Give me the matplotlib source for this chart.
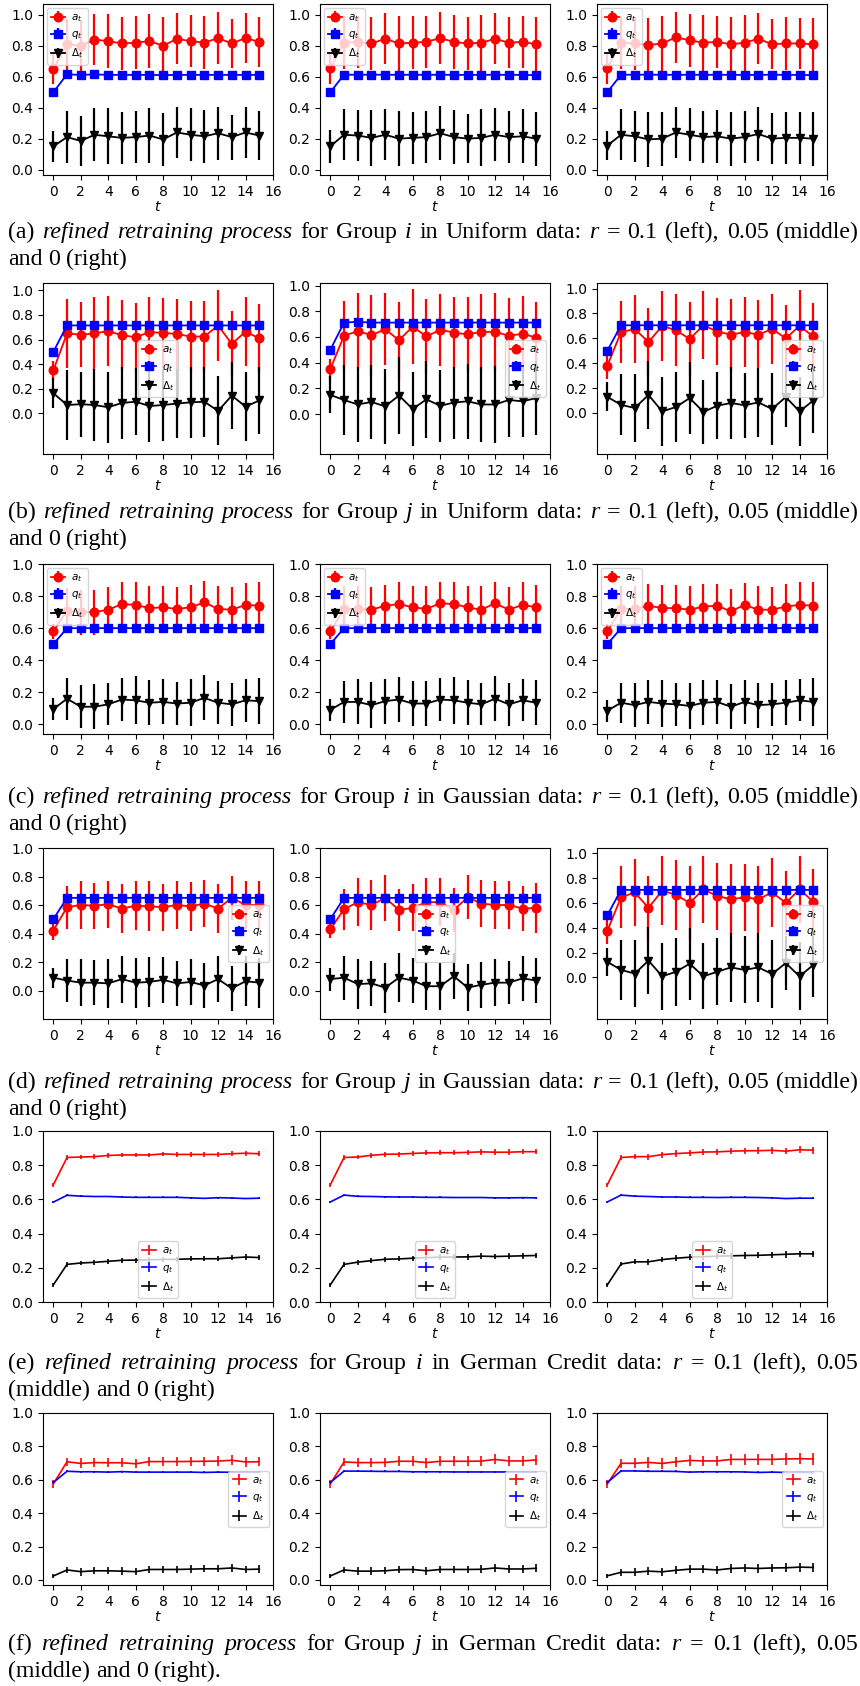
import matplotlib
matplotlib.use("Agg")
import matplotlib.pyplot as plt

# ---------------------------------------------------------------- data
T = list(range(16))

# Uniform data, group i  (each list of three: r = 0.1, 0.05, 0)
UNI_I_A = [
    [0.65, 0.81, 0.80, 0.84, 0.83, 0.815, 0.82, 0.83, 0.80, 0.845, 0.83, 0.82, 0.85, 0.815, 0.85, 0.825],
    [0.655, 0.82, 0.825, 0.815, 0.845, 0.815, 0.82, 0.825, 0.85, 0.825, 0.815, 0.82, 0.845, 0.82, 0.825, 0.81],
    [0.655, 0.82, 0.815, 0.805, 0.815, 0.855, 0.835, 0.82, 0.825, 0.81, 0.82, 0.845, 0.81, 0.815, 0.815, 0.81],
]
UNI_I_A_ERR = [
    [0.10, 0.165, 0.165, 0.165, 0.175, 0.17, 0.17, 0.175, 0.185, 0.165, 0.17, 0.17, 0.17, 0.16, 0.16, 0.16],
    [0.10, 0.17, 0.17, 0.17, 0.165, 0.18, 0.17, 0.17, 0.17, 0.175, 0.17, 0.18, 0.165, 0.165, 0.17, 0.175],
    [0.10, 0.17, 0.17, 0.175, 0.18, 0.165, 0.17, 0.18, 0.17, 0.175, 0.18, 0.165, 0.16, 0.17, 0.165, 0.17],
]
UNI_I_Q = [
    [0.50, 0.615, 0.612, 0.615, 0.612, 0.612, 0.612, 0.612, 0.61, 0.612, 0.612, 0.612, 0.612, 0.612, 0.612, 0.612],
    [0.50, 0.613, 0.613, 0.613, 0.613, 0.612, 0.613, 0.612, 0.613, 0.612, 0.612, 0.612, 0.613, 0.612, 0.612, 0.61],
    [0.50, 0.613, 0.613, 0.613, 0.613, 0.612, 0.613, 0.612, 0.613, 0.612, 0.612, 0.612, 0.613, 0.612, 0.612, 0.61],
]
UNI_I_Q_ERR = [
    [0.006, 0.01, 0.01, 0.01, 0.01, 0.01, 0.01, 0.01, 0.01, 0.01, 0.01, 0.01, 0.01, 0.01, 0.01, 0.01],
    [0.006, 0.01, 0.01, 0.01, 0.01, 0.01, 0.01, 0.01, 0.01, 0.01, 0.01, 0.01, 0.01, 0.01, 0.01, 0.01],
    [0.006, 0.01, 0.01, 0.01, 0.01, 0.01, 0.01, 0.01, 0.01, 0.01, 0.01, 0.01, 0.01, 0.01, 0.01, 0.01],
]
UNI_I_D = [
    [0.15, 0.21, 0.185, 0.225, 0.215, 0.205, 0.21, 0.22, 0.195, 0.24, 0.225, 0.215, 0.235, 0.21, 0.24, 0.22],
    [0.15, 0.225, 0.22, 0.205, 0.225, 0.20, 0.205, 0.21, 0.235, 0.21, 0.20, 0.205, 0.225, 0.21, 0.215, 0.20],
    [0.155, 0.225, 0.215, 0.195, 0.20, 0.24, 0.225, 0.21, 0.215, 0.20, 0.21, 0.23, 0.20, 0.205, 0.205, 0.20],
]
UNI_I_D_ERR = [
    [0.10, 0.17, 0.16, 0.17, 0.18, 0.17, 0.17, 0.18, 0.17, 0.165, 0.17, 0.17, 0.17, 0.145, 0.165, 0.16],
    [0.105, 0.165, 0.165, 0.18, 0.165, 0.18, 0.17, 0.17, 0.175, 0.175, 0.16, 0.185, 0.17, 0.17, 0.175, 0.175],
    [0.095, 0.165, 0.165, 0.18, 0.175, 0.165, 0.17, 0.17, 0.17, 0.175, 0.17, 0.175, 0.165, 0.17, 0.17, 0.175],
]

# Uniform data, group j
UNI_J_A = [
    [0.35, 0.65, 0.64, 0.65, 0.67, 0.635, 0.62, 0.66, 0.655, 0.645, 0.625, 0.625, 0.715, 0.565, 0.665, 0.61],
    [0.35, 0.61, 0.645, 0.615, 0.66, 0.575, 0.68, 0.605, 0.655, 0.635, 0.62, 0.64, 0.64, 0.61, 0.625, 0.595],
    [0.38, 0.65, 0.675, 0.57, 0.70, 0.665, 0.595, 0.705, 0.655, 0.63, 0.65, 0.63, 0.675, 0.60, 0.70, 0.615],
]
UNI_J_A_ERR = [
    [0.08, 0.28, 0.265, 0.295, 0.285, 0.285, 0.275, 0.285, 0.285, 0.285, 0.285, 0.285, 0.285, 0.27, 0.28, 0.28],
    [0.08, 0.27, 0.30, 0.31, 0.28, 0.30, 0.29, 0.29, 0.28, 0.28, 0.295, 0.295, 0.30, 0.29, 0.295, 0.28],
    [0.11, 0.25, 0.27, 0.27, 0.28, 0.29, 0.30, 0.275, 0.27, 0.29, 0.28, 0.28, 0.28, 0.265, 0.285, 0.27],
]
UNI_J_Q = [
    [0.50, 0.715, 0.715, 0.715, 0.715, 0.715, 0.715, 0.715, 0.715, 0.715, 0.715, 0.715, 0.715, 0.715, 0.715, 0.715],
    [0.50, 0.712, 0.718, 0.712, 0.712, 0.712, 0.712, 0.712, 0.712, 0.712, 0.712, 0.712, 0.712, 0.712, 0.712, 0.712],
    [0.50, 0.705, 0.705, 0.705, 0.705, 0.705, 0.705, 0.705, 0.705, 0.705, 0.705, 0.705, 0.705, 0.705, 0.705, 0.705],
]
UNI_J_Q_ERR = [
    [0.01, 0.012, 0.012, 0.012, 0.012, 0.012, 0.012, 0.012, 0.012, 0.012, 0.012, 0.012, 0.012, 0.012, 0.012, 0.012],
    [0.01, 0.012, 0.012, 0.012, 0.012, 0.012, 0.012, 0.012, 0.012, 0.012, 0.012, 0.012, 0.012, 0.012, 0.012, 0.012],
    [0.01, 0.012, 0.012, 0.012, 0.012, 0.012, 0.012, 0.012, 0.012, 0.012, 0.012, 0.012, 0.012, 0.012, 0.012, 0.012],
]
UNI_J_D = [
    [0.165, 0.068, 0.075, 0.068, 0.05, 0.085, 0.095, 0.06, 0.068, 0.08, 0.09, 0.095, 0.02, 0.145, 0.055, 0.105],
    [0.15, 0.11, 0.075, 0.095, 0.06, 0.145, 0.04, 0.115, 0.065, 0.09, 0.10, 0.075, 0.075, 0.11, 0.10, 0.125],
    [0.13, 0.065, 0.04, 0.145, 0.012, 0.048, 0.12, 0.008, 0.058, 0.08, 0.062, 0.085, 0.032, 0.128, 0.012, 0.10],
]
UNI_J_D_ERR = [
    [0.12, 0.285, 0.265, 0.295, 0.29, 0.29, 0.27, 0.295, 0.29, 0.28, 0.29, 0.285, 0.28, 0.275, 0.28, 0.275],
    [0.145, 0.275, 0.295, 0.29, 0.29, 0.30, 0.285, 0.30, 0.28, 0.28, 0.29, 0.29, 0.30, 0.29, 0.28, 0.29],
    [0.115, 0.245, 0.27, 0.27, 0.275, 0.285, 0.29, 0.26, 0.27, 0.29, 0.26, 0.275, 0.29, 0.24, 0.275, 0.26],
]

# Gaussian data, group i
GAU_I_A = [
    [0.58, 0.71, 0.70, 0.70, 0.715, 0.75, 0.745, 0.725, 0.73, 0.72, 0.73, 0.76, 0.72, 0.715, 0.745, 0.74],
    [0.58, 0.72, 0.72, 0.715, 0.74, 0.75, 0.73, 0.72, 0.755, 0.75, 0.73, 0.715, 0.755, 0.715, 0.745, 0.73],
    [0.58, 0.72, 0.72, 0.74, 0.725, 0.725, 0.715, 0.735, 0.74, 0.705, 0.745, 0.715, 0.715, 0.735, 0.745, 0.74],
]
GAU_I_A_ERR = [
    [0.045, 0.14, 0.14, 0.14, 0.14, 0.135, 0.145, 0.14, 0.135, 0.135, 0.14, 0.135, 0.145, 0.14, 0.135, 0.145],
    [0.045, 0.14, 0.14, 0.14, 0.13, 0.14, 0.135, 0.14, 0.13, 0.135, 0.135, 0.145, 0.135, 0.14, 0.14, 0.14],
    [0.045, 0.14, 0.14, 0.135, 0.145, 0.145, 0.145, 0.14, 0.135, 0.14, 0.135, 0.145, 0.14, 0.14, 0.14, 0.15],
]
GAU_I_Q = [
    [0.50, 0.60, 0.60, 0.60, 0.60, 0.60, 0.60, 0.60, 0.60, 0.60, 0.60, 0.60, 0.60, 0.60, 0.60, 0.60],
    [0.50, 0.60, 0.60, 0.60, 0.60, 0.60, 0.60, 0.60, 0.60, 0.60, 0.60, 0.60, 0.60, 0.60, 0.60, 0.60],
    [0.50, 0.60, 0.60, 0.60, 0.60, 0.60, 0.60, 0.60, 0.60, 0.60, 0.60, 0.60, 0.60, 0.60, 0.60, 0.60],
]
GAU_I_Q_ERR = [
    [0.006, 0.01, 0.01, 0.01, 0.01, 0.01, 0.01, 0.01, 0.01, 0.01, 0.01, 0.01, 0.01, 0.01, 0.01, 0.01],
    [0.006, 0.01, 0.01, 0.01, 0.01, 0.01, 0.01, 0.01, 0.01, 0.01, 0.01, 0.01, 0.01, 0.01, 0.01, 0.01],
    [0.006, 0.01, 0.01, 0.01, 0.01, 0.01, 0.01, 0.01, 0.01, 0.01, 0.01, 0.01, 0.01, 0.01, 0.01, 0.01],
]
GAU_I_D = [
    [0.095, 0.16, 0.11, 0.11, 0.125, 0.155, 0.15, 0.135, 0.14, 0.13, 0.135, 0.165, 0.135, 0.125, 0.15, 0.145],
    [0.09, 0.14, 0.14, 0.12, 0.145, 0.155, 0.13, 0.13, 0.155, 0.15, 0.135, 0.125, 0.16, 0.125, 0.15, 0.135],
    [0.085, 0.135, 0.12, 0.14, 0.13, 0.125, 0.115, 0.135, 0.14, 0.11, 0.14, 0.12, 0.125, 0.135, 0.15, 0.14],
]
GAU_I_D_ERR = [
    [0.07, 0.13, 0.135, 0.14, 0.13, 0.135, 0.15, 0.14, 0.14, 0.135, 0.145, 0.14, 0.135, 0.135, 0.135, 0.145],
    [0.07, 0.13, 0.14, 0.145, 0.14, 0.14, 0.14, 0.14, 0.135, 0.145, 0.14, 0.13, 0.14, 0.135, 0.13, 0.14],
    [0.07, 0.125, 0.135, 0.135, 0.145, 0.135, 0.145, 0.14, 0.135, 0.14, 0.135, 0.14, 0.135, 0.14, 0.13, 0.15],
]

# Gaussian data, group j
GAU_J_A = [
    [0.42, 0.585, 0.60, 0.595, 0.605, 0.575, 0.595, 0.59, 0.585, 0.60, 0.59, 0.61, 0.575, 0.65, 0.60, 0.60],
    [0.43, 0.57, 0.62, 0.60, 0.65, 0.565, 0.58, 0.62, 0.62, 0.565, 0.655, 0.61, 0.60, 0.60, 0.575, 0.58],
    [0.375, 0.645, 0.685, 0.56, 0.70, 0.665, 0.60, 0.71, 0.655, 0.63, 0.645, 0.63, 0.685, 0.60, 0.71, 0.61],
]
GAU_J_A_ERR = [
    [0.065, 0.15, 0.165, 0.16, 0.165, 0.17, 0.17, 0.175, 0.165, 0.17, 0.17, 0.165, 0.17, 0.155, 0.17, 0.17],
    [0.065, 0.145, 0.17, 0.175, 0.16, 0.15, 0.165, 0.17, 0.17, 0.155, 0.155, 0.165, 0.17, 0.165, 0.155, 0.175],
    [0.11, 0.25, 0.27, 0.26, 0.28, 0.28, 0.30, 0.27, 0.27, 0.28, 0.27, 0.27, 0.28, 0.26, 0.27, 0.26],
]
GAU_J_Q = [
    [0.50, 0.65, 0.65, 0.65, 0.65, 0.65, 0.65, 0.65, 0.65, 0.65, 0.65, 0.65, 0.65, 0.65, 0.65, 0.65],
    [0.50, 0.65, 0.65, 0.65, 0.65, 0.65, 0.65, 0.65, 0.65, 0.65, 0.65, 0.65, 0.65, 0.65, 0.65, 0.65],
    [0.50, 0.705, 0.705, 0.705, 0.705, 0.705, 0.705, 0.705, 0.705, 0.705, 0.705, 0.705, 0.705, 0.705, 0.705, 0.705],
]
GAU_J_Q_ERR = [
    [0.01, 0.012, 0.012, 0.012, 0.012, 0.012, 0.012, 0.012, 0.012, 0.012, 0.012, 0.012, 0.012, 0.012, 0.012, 0.012],
    [0.01, 0.012, 0.012, 0.012, 0.012, 0.012, 0.012, 0.012, 0.012, 0.012, 0.012, 0.012, 0.012, 0.012, 0.012, 0.012],
    [0.01, 0.012, 0.012, 0.012, 0.012, 0.012, 0.012, 0.012, 0.012, 0.012, 0.012, 0.012, 0.012, 0.012, 0.012, 0.012],
]
GAU_J_D = [
    [0.09, 0.07, 0.055, 0.055, 0.05, 0.08, 0.055, 0.06, 0.075, 0.05, 0.06, 0.035, 0.08, 0.015, 0.065, 0.055],
    [0.08, 0.09, 0.045, 0.05, 0.02, 0.09, 0.07, 0.03, 0.03, 0.10, 0.02, 0.04, 0.055, 0.055, 0.085, 0.07],
    [0.125, 0.06, 0.03, 0.135, 0.008, 0.045, 0.11, 0.008, 0.045, 0.08, 0.06, 0.08, 0.027, 0.115, 0.008, 0.10],
]
GAU_J_D_ERR = [
    [0.07, 0.15, 0.165, 0.16, 0.17, 0.165, 0.175, 0.175, 0.16, 0.16, 0.16, 0.16, 0.16, 0.16, 0.175, 0.175],
    [0.08, 0.155, 0.175, 0.16, 0.175, 0.17, 0.155, 0.17, 0.165, 0.16, 0.165, 0.16, 0.165, 0.15, 0.16, 0.16],
    [0.115, 0.245, 0.27, 0.27, 0.27, 0.275, 0.29, 0.265, 0.27, 0.28, 0.27, 0.28, 0.275, 0.22, 0.275, 0.26],
]

# German Credit data, group i
GER_I_A = [
    [0.685, 0.845, 0.848, 0.85, 0.857, 0.86, 0.86, 0.86, 0.866, 0.863, 0.863, 0.863, 0.863, 0.867, 0.87, 0.867],
    [0.685, 0.845, 0.848, 0.858, 0.864, 0.865, 0.869, 0.872, 0.873, 0.873, 0.875, 0.878, 0.876, 0.876, 0.879, 0.879],
    [0.685, 0.845, 0.85, 0.85, 0.862, 0.868, 0.872, 0.877, 0.878, 0.882, 0.884, 0.885, 0.887, 0.882, 0.89, 0.888],
]
GER_I_A_ERR = [
    [0.012, 0.012, 0.014, 0.014, 0.014, 0.014, 0.014, 0.014, 0.014, 0.014, 0.015, 0.015, 0.015, 0.015, 0.015, 0.015],
    [0.012, 0.013, 0.014, 0.015, 0.015, 0.015, 0.015, 0.015, 0.016, 0.016, 0.016, 0.016, 0.016, 0.016, 0.016, 0.016],
    [0.012, 0.014, 0.016, 0.017, 0.017, 0.018, 0.018, 0.018, 0.018, 0.019, 0.019, 0.019, 0.019, 0.019, 0.02, 0.02],
]
GER_I_Q = [
    [0.584, 0.624, 0.619, 0.617, 0.617, 0.614, 0.612, 0.612, 0.612, 0.612, 0.609, 0.606, 0.61, 0.608, 0.605, 0.607],
    [0.585, 0.625, 0.618, 0.617, 0.615, 0.614, 0.614, 0.612, 0.612, 0.611, 0.611, 0.611, 0.609, 0.609, 0.61, 0.609],
    [0.585, 0.625, 0.619, 0.617, 0.614, 0.614, 0.612, 0.612, 0.611, 0.612, 0.612, 0.611, 0.609, 0.605, 0.607, 0.607],
]
GER_I_Q_ERR = [
    [0.005, 0.005, 0.005, 0.005, 0.005, 0.005, 0.005, 0.005, 0.005, 0.005, 0.005, 0.005, 0.005, 0.005, 0.005, 0.005],
    [0.005, 0.005, 0.005, 0.005, 0.005, 0.005, 0.005, 0.005, 0.005, 0.005, 0.005, 0.005, 0.005, 0.005, 0.005, 0.005],
    [0.005, 0.005, 0.005, 0.005, 0.005, 0.005, 0.005, 0.005, 0.005, 0.005, 0.005, 0.005, 0.005, 0.005, 0.005, 0.005],
]
GER_I_D = [
    [0.10, 0.22, 0.228, 0.232, 0.238, 0.244, 0.245, 0.247, 0.249, 0.25, 0.252, 0.253, 0.253, 0.258, 0.263, 0.26],
    [0.10, 0.22, 0.233, 0.242, 0.25, 0.252, 0.256, 0.26, 0.262, 0.263, 0.264, 0.268, 0.266, 0.268, 0.27, 0.272],
    [0.10, 0.222, 0.235, 0.235, 0.248, 0.256, 0.262, 0.265, 0.268, 0.27, 0.272, 0.273, 0.276, 0.279, 0.282, 0.282],
]
GER_I_D_ERR = [
    [0.012, 0.013, 0.014, 0.014, 0.015, 0.015, 0.015, 0.015, 0.015, 0.015, 0.015, 0.015, 0.015, 0.015, 0.015, 0.015],
    [0.012, 0.013, 0.014, 0.015, 0.015, 0.015, 0.015, 0.016, 0.016, 0.016, 0.016, 0.016, 0.016, 0.016, 0.016, 0.016],
    [0.012, 0.014, 0.015, 0.016, 0.017, 0.017, 0.017, 0.018, 0.018, 0.018, 0.018, 0.018, 0.019, 0.019, 0.019, 0.019],
]

# German Credit data, group j
GER_J_A = [
    [0.575, 0.708, 0.698, 0.703, 0.702, 0.702, 0.696, 0.709, 0.709, 0.709, 0.71, 0.711, 0.712, 0.717, 0.707, 0.708],
    [0.575, 0.707, 0.703, 0.703, 0.704, 0.711, 0.711, 0.703, 0.711, 0.711, 0.711, 0.712, 0.722, 0.713, 0.713, 0.719],
    [0.575, 0.699, 0.699, 0.704, 0.698, 0.708, 0.716, 0.713, 0.713, 0.722, 0.722, 0.722, 0.722, 0.725, 0.726, 0.725],
]
GER_J_A_ERR = [
    [0.022, 0.025, 0.03, 0.027, 0.027, 0.027, 0.027, 0.028, 0.028, 0.028, 0.028, 0.028, 0.028, 0.03, 0.028, 0.028],
    [0.022, 0.026, 0.028, 0.028, 0.028, 0.029, 0.029, 0.03, 0.029, 0.029, 0.029, 0.029, 0.03, 0.03, 0.03, 0.031],
    [0.022, 0.028, 0.03, 0.031, 0.031, 0.031, 0.032, 0.032, 0.032, 0.033, 0.033, 0.033, 0.033, 0.034, 0.034, 0.034],
]
GER_J_Q = [
    [0.584, 0.651, 0.648, 0.648, 0.646, 0.649, 0.646, 0.646, 0.646, 0.646, 0.646, 0.644, 0.646, 0.645, 0.645, 0.645],
    [0.584, 0.652, 0.652, 0.651, 0.65, 0.65, 0.648, 0.648, 0.648, 0.647, 0.647, 0.647, 0.647, 0.647, 0.646, 0.646],
    [0.584, 0.653, 0.653, 0.651, 0.651, 0.65, 0.646, 0.648, 0.648, 0.648, 0.647, 0.644, 0.646, 0.644, 0.644, 0.644],
]
GER_J_Q_ERR = [
    [0.006, 0.006, 0.006, 0.006, 0.006, 0.006, 0.006, 0.006, 0.006, 0.006, 0.006, 0.006, 0.006, 0.006, 0.006, 0.006],
    [0.006, 0.006, 0.006, 0.006, 0.006, 0.006, 0.006, 0.006, 0.006, 0.006, 0.006, 0.006, 0.006, 0.006, 0.006, 0.006],
    [0.006, 0.006, 0.006, 0.006, 0.006, 0.006, 0.006, 0.006, 0.006, 0.006, 0.006, 0.006, 0.006, 0.006, 0.006, 0.006],
]
GER_J_D = [
    [0.024, 0.06, 0.05, 0.055, 0.055, 0.053, 0.05, 0.063, 0.063, 0.063, 0.065, 0.067, 0.067, 0.072, 0.063, 0.065],
    [0.024, 0.06, 0.053, 0.053, 0.055, 0.062, 0.063, 0.055, 0.063, 0.063, 0.063, 0.064, 0.072, 0.066, 0.066, 0.07],
    [0.025, 0.046, 0.046, 0.053, 0.049, 0.058, 0.065, 0.065, 0.06, 0.069, 0.072, 0.069, 0.072, 0.073, 0.077, 0.075],
]
GER_J_D_ERR = [
    [0.012, 0.02, 0.024, 0.022, 0.022, 0.022, 0.022, 0.022, 0.022, 0.022, 0.022, 0.022, 0.022, 0.024, 0.022, 0.022],
    [0.012, 0.02, 0.022, 0.022, 0.022, 0.022, 0.023, 0.023, 0.023, 0.023, 0.023, 0.023, 0.024, 0.023, 0.023, 0.024],
    [0.012, 0.022, 0.024, 0.024, 0.024, 0.025, 0.025, 0.025, 0.025, 0.026, 0.026, 0.026, 0.026, 0.026, 0.027, 0.027],
]

SERIES_LABELS = [r"$a_t$", r"$q_t$", r"$\Delta_t$"]
TICKS_Y = [0.0, 0.2, 0.4, 0.6, 0.8, 1.0]

CAPTION_DATA = [
    ("(a)", "i", ["Uniform"]),
    ("(b)", "j", ["Uniform"]),
    ("(c)", "i", ["Gaussian"]),
    ("(d)", "j", ["Gaussian"]),
    ("(e)", "i", ["German", "Credit"]),
    ("(f)", "j", ["German", "Credit"]),
]

# ---------------------------------------------------------------- layout
W, H, DPI = 860, 1686, 100
fig = plt.figure(figsize=(W / DPI, H / DPI), dpi=DPI)

COLS = [(43, 273), (320, 550), (597, 827)]
ROWS = [(4, 175), (283, 454), (564, 734), (848, 1019), (1131, 1302), (1413, 1585)]
YLIMS = [
    [(-0.035, 1.07), (-0.035, 1.07), (-0.035, 1.07)],
    [(-0.33, 1.06), (-0.31, 1.02), (-0.33, 1.045)],
    [(-0.06, 1.0), (-0.06, 1.0), (-0.06, 1.0)],
    [(-0.2, 1.0), (-0.2, 1.0), (-0.336, 1.043)],
    [(0.0, 1.0), (0.0, 1.0), (0.0, 1.0)],
    [(-0.03, 1.0), (-0.03, 1.0), (-0.03, 1.0)],
]
LEGEND_LOCS = [
    ["upper left"] * 3,
    ["center", "center right", "center right"],
    ["upper left"] * 3,
    ["center right", "center", "center right"],
    ["lower center"] * 3,
    ["center right"] * 3,
]
CAPTION_BASELINES = [(238, 265), (518, 545), (803, 830), (1088, 1115), (1369, 1396), (1650, 1677)]

ROW_DATA = [
    (UNI_I_A, UNI_I_A_ERR, UNI_I_Q, UNI_I_Q_ERR, UNI_I_D, UNI_I_D_ERR),
    (UNI_J_A, UNI_J_A_ERR, UNI_J_Q, UNI_J_Q_ERR, UNI_J_D, UNI_J_D_ERR),
    (GAU_I_A, GAU_I_A_ERR, GAU_I_Q, GAU_I_Q_ERR, GAU_I_D, GAU_I_D_ERR),
    (GAU_J_A, GAU_J_A_ERR, GAU_J_Q, GAU_J_Q_ERR, GAU_J_D, GAU_J_D_ERR),
    (GER_I_A, GER_I_A_ERR, GER_I_Q, GER_I_Q_ERR, GER_I_D, GER_I_D_ERR),
    (GER_J_A, GER_J_A_ERR, GER_J_Q, GER_J_Q_ERR, GER_J_D, GER_J_D_ERR),
]

COLORS = ["red", "blue", "black"]
MARKERS = ["o", "s", "v"]
MARKER_SIZES = [6.2, 6.0, 6.0]


def make_axes(row, col):
    x0, x1 = COLS[col]
    y0, y1 = ROWS[row]
    return fig.add_axes([x0 / W, 1 - y1 / H, (x1 - x0) / W, (y1 - y0) / H])


for r, (A, AE, Q, QE, D, DE) in enumerate(ROW_DATA):
    with_markers = r < 4
    for c in range(3):
        ax = make_axes(r, c)
        series = [(A[c], AE[c]), (Q[c], QE[c]), (D[c], DE[c])]
        for k, (vals, errs) in enumerate(series):
            if with_markers:
                ax.errorbar(T, vals, yerr=errs, color=COLORS[k], marker=MARKERS[k],
                            ms=MARKER_SIZES[k], lw=1.3, elinewidth=1.6,
                            label=SERIES_LABELS[k])
            else:
                ax.errorbar(T, vals, yerr=errs, color=COLORS[k], lw=1.2,
                            elinewidth=1.2, label=SERIES_LABELS[k])
        ax.set_xlim(-0.75, 16)
        ax.set_ylim(*YLIMS[r][c])
        ax.set_xticks(range(0, 17, 2))
        ax.set_yticks(TICKS_Y)
        ax.tick_params(labelsize=10)
        ax.set_xlabel(r"$t$", fontsize=10, labelpad=1)
        ax.legend(loc=LEGEND_LOCS[r][c], fontsize=7.5, handlelength=1.3,
                  handletextpad=0.6, borderpad=0.4, labelspacing=0.5,
                  borderaxespad=0.4)

# ---------------------------------------------------------------- captions
renderer = fig.canvas.get_renderer()
CAP_FS = 17.2
CAP_FAMILY = "Liberation Serif"
LEFT_X, RIGHT_X = 8, 858


def place_line(tokens, baseline, justify):
    texts = []
    for word, italic in tokens:
        t = fig.text(0, 1 - baseline / H, word, fontsize=CAP_FS, family=CAP_FAMILY,
                     style="italic" if italic else "normal", ha="left", va="baseline")
        texts.append(t)
    widths = [t.get_window_extent(renderer).width for t in texts]
    space = 0.25 * CAP_FS * DPI / 72
    if justify and len(texts) > 1:
        space = (RIGHT_X - LEFT_X - sum(widths)) / (len(texts) - 1)
    x = LEFT_X
    for t, w in zip(texts, widths):
        t.set_x(x / W)
        x += w + space


for r, (tag, grp, data_words) in enumerate(CAPTION_DATA):
    line1 = [(tag, False), ("refined", True), ("retraining", True), ("process", True),
             ("for", False), ("Group", False), (grp, True), ("in", False)]
    line1 += [(w, False) for w in data_words]
    line1 += [("data:", False), ("r", True), ("=", False), ("0.1", False),
              ("(left),", False), ("0.05", False)]
    if len(data_words) == 1:
        line1 += [("(middle)", False)]
        line2 = [("and", False), ("0", False), ("(right)", False)]
    else:
        tail = "(right)." if tag == "(f)" else "(right)"
        line2 = [("(middle)", False), ("and", False), ("0", False), (tail, False)]
    b1, b2 = CAPTION_BASELINES[r]
    place_line(line1, b1, True)
    place_line(line2, b2, False)

fig.savefig("out.png", dpi=DPI)
